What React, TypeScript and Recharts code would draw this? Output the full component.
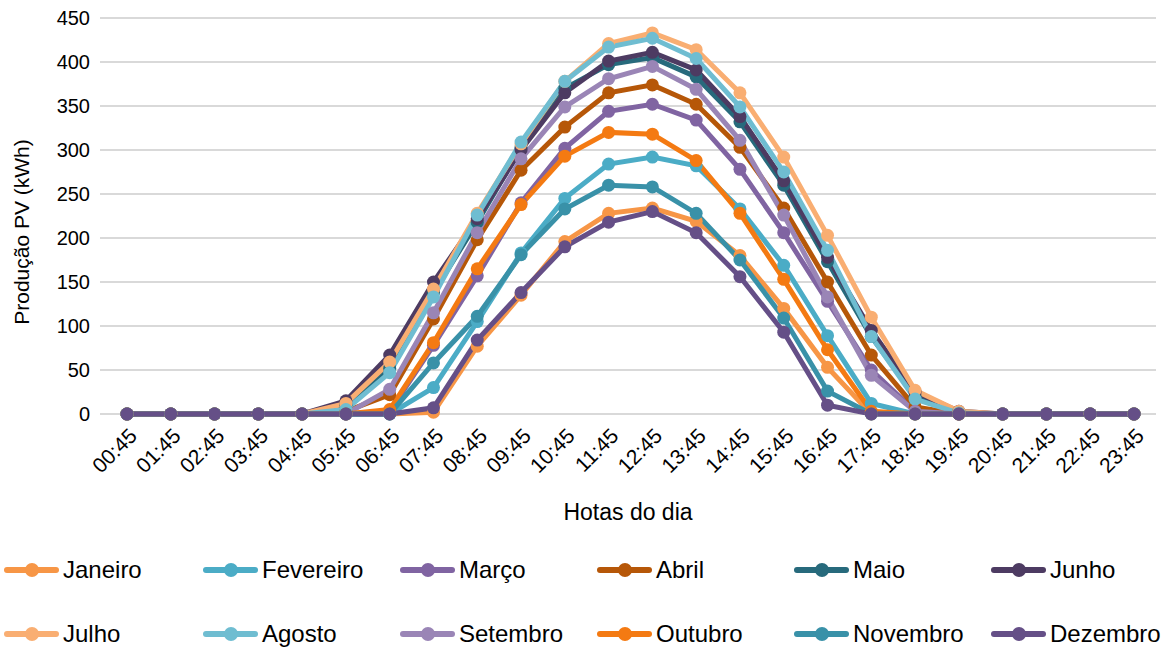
import React from 'react';
import { LineChart, Line, XAxis, YAxis, CartesianGrid } from 'recharts';

const hours = [
  '00:45', '01:45', '02:45', '03:45', '04:45', '05:45', '06:45', '07:45',
  '08:45', '09:45', '10:45', '11:45', '12:45', '13:45', '14:45', '15:45',
  '16:45', '17:45', '18:45', '19:45', '20:45', '21:45', '22:45', '23:45',
];

const yTicks = [0, 50, 100, 150, 200, 250, 300, 350, 400, 450];

const janeiro = [0, 0, 0, 0, 0, 0, 0, 2, 77, 135, 196, 228, 234, 219, 180, 120, 53, 0, 0, 0, 0, 0, 0, 0];
const fevereiro = [0, 0, 0, 0, 0, 0, 0, 30, 105, 183, 245, 284, 292, 282, 233, 169, 89, 12, 0, 0, 0, 0, 0, 0];
const marco = [0, 0, 0, 0, 0, 0, 3, 78, 157, 240, 302, 344, 352, 334, 278, 206, 128, 50, 3, 0, 0, 0, 0, 0];
const abril = [0, 0, 0, 0, 0, 3, 22, 108, 198, 277, 326, 365, 374, 352, 303, 234, 150, 67, 8, 0, 0, 0, 0, 0];
const maio = [0, 0, 0, 0, 0, 10, 52, 138, 218, 303, 370, 397, 405, 383, 332, 260, 173, 88, 20, 1, 0, 0, 0, 0];
const junho = [0, 0, 0, 0, 0, 15, 67, 150, 222, 300, 365, 401, 411, 391, 338, 265, 178, 95, 25, 3, 0, 0, 0, 0];
const julho = [0, 0, 0, 0, 0, 12, 59, 142, 228, 307, 378, 421, 433, 414, 365, 292, 203, 110, 27, 3, 0, 0, 0, 0];
const agosto = [0, 0, 0, 0, 0, 5, 47, 133, 226, 309, 378, 417, 427, 404, 349, 275, 186, 88, 17, 1, 0, 0, 0, 0];
const setembro = [0, 0, 0, 0, 0, 0, 28, 115, 206, 290, 349, 381, 395, 369, 311, 226, 133, 44, 3, 0, 0, 0, 0, 0];
const outubro = [0, 0, 0, 0, 0, 0, 5, 81, 165, 238, 293, 320, 318, 288, 228, 153, 73, 3, 0, 0, 0, 0, 0, 0];
const novembro = [0, 0, 0, 0, 0, 0, 0, 58, 111, 181, 233, 260, 258, 228, 175, 109, 26, 0, 0, 0, 0, 0, 0, 0];
const dezembro = [0, 0, 0, 0, 0, 0, 0, 7, 84, 138, 190, 218, 230, 206, 156, 93, 10, 0, 0, 0, 0, 0, 0, 0];

const series = [
  { key: 'Janeiro', values: janeiro, color: '#F79646' },
  { key: 'Fevereiro', values: fevereiro, color: '#4BACC6' },
  { key: 'Março', values: marco, color: '#8064A2' },
  { key: 'Abril', values: abril, color: '#B65708' },
  { key: 'Maio', values: maio, color: '#276A7C' },
  { key: 'Junho', values: junho, color: '#4D3B62' },
  { key: 'Julho', values: julho, color: '#F9AE72' },
  { key: 'Agosto', values: agosto, color: '#6FBDD1' },
  { key: 'Setembro', values: setembro, color: '#9A85B6' },
  { key: 'Outubro', values: outubro, color: '#F47A12' },
  { key: 'Novembro', values: novembro, color: '#3991A8' },
  { key: 'Dezembro', values: dezembro, color: '#654F87' },
];

const data = hours.map((h, i) => {
  const row: Record<string, string | number> = { hour: h };
  series.forEach(s => { row[s.key] = s.values[i]; });
  return row;
});

const FONT = '"Liberation Sans", Arial, sans-serif';

// legend grid, 6 entries per row
const legendCols = [4, 203, 400, 597, 794, 991];
const legendRows = [570, 634];

const HourTick = ({ x, y, payload }: any) => (
  <g transform={`translate(${x + 6},${y + 18})`}>
    <text x={0} y={0} dy="0.35em" textAnchor="end" transform="rotate(-45)"
      fill="#000" fontSize={21} fontFamily={FONT}>
      {payload.value}
    </text>
  </g>
);

const LegendItem = ({ name, color, left, top }: { name: string, color: string, left: number, top: number }) => (
  <div style={{ position: 'absolute', left, top: top - 16, height: 32, display: 'flex', alignItems: 'center' }}>
    <svg width={56} height={18} style={{ display: 'block' }}>
      <line x1={3} y1={9} x2={52} y2={9} stroke={color} strokeWidth={6} strokeLinecap="round" />
      <circle cx={28} cy={9} r={7} fill={color} />
    </svg>
    <span style={{ fontFamily: FONT, fontSize: 24, color: '#000', marginLeft: 3, whiteSpace: 'nowrap' }}>{name}</span>
  </div>
);

export default function App() {
  return (
    <div style={{ position: 'absolute', left: 0, top: 0, width: 1167, height: 648, background: '#fff', fontFamily: FONT }}>
      <LineChart width={1167} height={540} data={data} margin={{ top: 18, right: 11, left: 0, bottom: 16 }}>
        <CartesianGrid vertical={false} stroke="#D9D9D9" strokeWidth={2} />
        <XAxis
          dataKey="hour"
          interval={0}
          axisLine={false}
          tickLine={false}
          tickSize={0}
          tickMargin={0}
          height={110}
          padding={{ left: 27, right: 22 }}
          tick={<HourTick />}
          label={{ value: 'Hotas do dia', position: 'insideBottom', offset: 4, fill: '#000', fontSize: 23, fontFamily: FONT }}
        />
        <YAxis
          domain={[0, 450]}
          ticks={yTicks}
          interval={0}
          width={100}
          axisLine={false}
          tickLine={false}
          tickSize={0}
          tickMargin={10}
          tick={{ fill: '#000', fontSize: 20, fontFamily: FONT }}
          label={{ value: 'Produção PV (kWh)', angle: -90, position: 'insideLeft', offset: 22, dy: 16, fill: '#000', fontSize: 21, fontFamily: FONT, style: { textAnchor: 'middle' } }}
        />
        {series.map(s => (
          <Line
            key={s.key}
            dataKey={s.key}
            stroke={s.color}
            strokeWidth={5}
            dot={{ r: 6.5, fill: s.color, stroke: 'none' }}
            activeDot={false}
            isAnimationActive={false}
          />
        ))}
      </LineChart>
      {series.map((s, i) => (
        <LegendItem key={s.key} name={s.key} color={s.color}
          left={legendCols[i % 6]} top={legendRows[Math.floor(i / 6)]} />
      ))}
    </div>
  );
}
